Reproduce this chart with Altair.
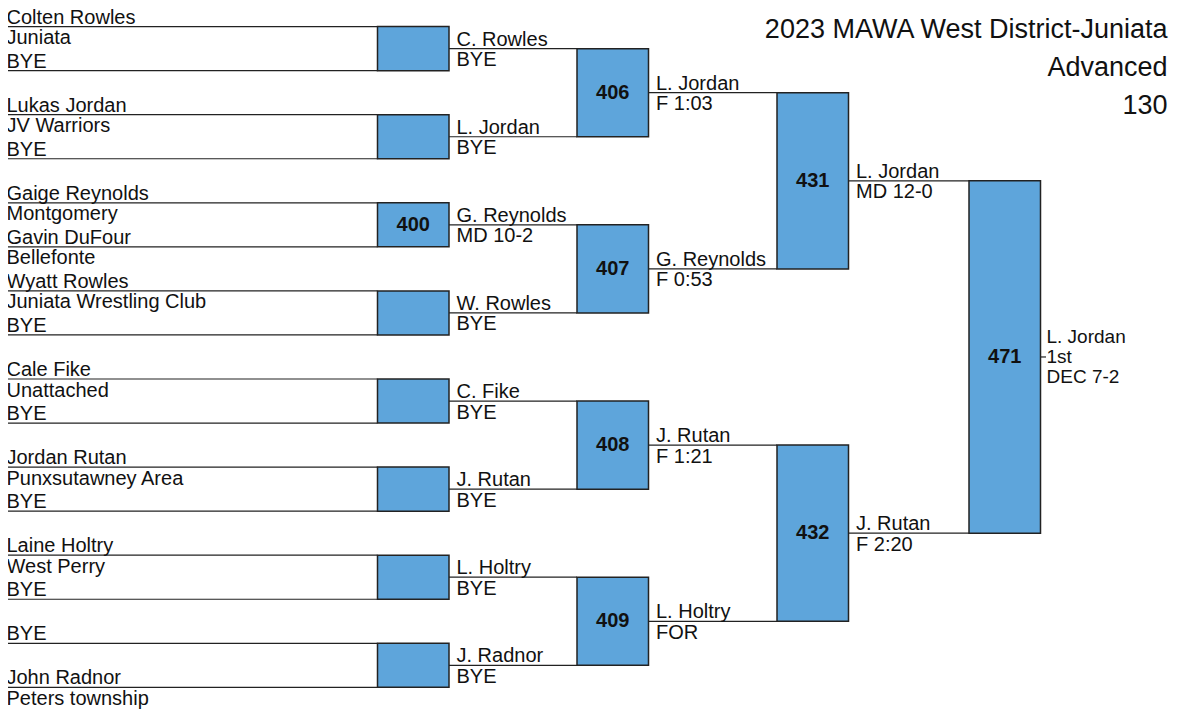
import altair as alt
import pandas as pd

# ---------------- data ----------------
title_lines = ["2023 MAWA West District-Juniata", "Advanced", "130"]

r1_names = ["Colten Rowles", "BYE", "Lukas Jordan", "BYE",
            "Gaige Reynolds", "Gavin DuFour", "Wyatt Rowles", "BYE",
            "Cale Fike", "BYE", "Jordan Rutan", "BYE",
            "Laine Holtry", "BYE", "BYE", "John Radnor"]
r1_teams = ["Juniata", "", "JV Warriors", "",
            "Montgomery", "Bellefonte", "Juniata Wrestling Club", "",
            "Unattached", "", "Punxsutawney Area", "",
            "West Perry", "", "", "Peters township"]
r1_bouts = ["", "", "400", "", "", "", "", ""]

r2_names = ["C. Rowles", "L. Jordan", "G. Reynolds", "W. Rowles",
            "C. Fike", "J. Rutan", "L. Holtry", "J. Radnor"]
r2_results = ["BYE", "BYE", "MD 10-2", "BYE", "BYE", "BYE", "BYE", "BYE"]
r2_bouts = ["406", "407", "408", "409"]

r3_names = ["L. Jordan", "G. Reynolds", "J. Rutan", "L. Holtry"]
r3_results = ["F 1:03", "F 0:53", "F 1:21", "FOR"]
r3_bouts = ["431", "432"]

r4_names = ["L. Jordan", "J. Rutan"]
r4_results = ["MD 12-0", "F 2:20"]
r4_bouts = ["471"]

final_lines = ["L. Jordan", "1st", "DEC 7-2"]

# ---------------- layout ----------------
FONT = "Liberation Sans"
W, H = 1168, 701
Y0, DY = 26.6, 44.05                # first-round line spacing
BOX_LEFT = [377.5, 577, 777, 969]   # bracket box left edges per round
BOX_W = 71.5
LINE_START0 = 6
BLUE = "#5EA5DB"

rounds_names = [r1_names, r2_names, r3_names, r4_names]
rounds_below = [r1_teams, r2_results, r3_results, r4_results]
rounds_bouts = [r1_bouts, r2_bouts, r3_bouts, r4_bouts]

line_rows, above_rows, below_rows, box_rows = [], [], [], []
pos = [Y0 + DY * k for k in range(len(r1_names))]
for r in range(4):
    start = LINE_START0 if r == 0 else BOX_LEFT[r - 1] + BOX_W
    end = BOX_LEFT[r]
    tx = start + (0.5 if r == 0 else 7.5)
    for i, y in enumerate(pos):
        line_rows.append({"x": start, "x2": end, "y": y})
        above_rows.append({"x": tx, "y": y, "t": rounds_names[r][i]})
        if rounds_below[r][i]:
            below_rows.append({"x": tx, "y": y, "t": rounds_below[r][i]})
    new_pos = []
    for j, b in enumerate(rounds_bouts[r]):
        y1, y2 = pos[2 * j], pos[2 * j + 1]
        box_rows.append({"x": BOX_LEFT[r], "x2": BOX_LEFT[r] + BOX_W,
                         "y": y1, "y2": y2, "yc": (y1 + y2) / 2,
                         "xc": BOX_LEFT[r] + BOX_W / 2, "t": b})
        new_pos.append((y1 + y2) / 2)
    pos = new_pos

final_y = pos[0]
final_x0 = BOX_LEFT[3] + BOX_W
line_rows.append({"x": final_x0, "x2": final_x0 + 5.5, "y": final_y})
final_rows = [{"x": final_x0 + 6, "y": final_y + 6.5 + (i - 1) * 20, "t": t}
              for i, t in enumerate(final_lines)]
title_rows = [{"x": 1167.5, "y": 38 + 38 * i, "t": t}
              for i, t in enumerate(title_lines)]

lines = pd.DataFrame(line_rows)
above = pd.DataFrame(above_rows)
below = pd.DataFrame(below_rows)
boxes = pd.DataFrame(box_rows)
finals = pd.DataFrame(final_rows)
titles = pd.DataFrame(title_rows)

xs = alt.Scale(domain=[8, 8 + W], nice=False, zero=False)
ys = alt.Scale(domain=[8, 8 + H], nice=False, zero=False, reverse=True)
X = lambda f: alt.X(f, type="quantitative", scale=xs, axis=None)
Y = lambda f: alt.Y(f, type="quantitative", scale=ys, axis=None)

rule_layer = alt.Chart(lines).mark_rule(color="#222", strokeWidth=1.2).encode(
    x=X("x"), x2="x2", y=Y("y"))
box_layer = alt.Chart(boxes).mark_rect(fill=BLUE, stroke="#222", strokeWidth=1.5).encode(
    x=X("x"), x2="x2", y=Y("y"), y2="y2")
bout_layer = alt.Chart(boxes).mark_text(font=FONT, fontSize=20, fontWeight="bold",
                                        align="center", baseline="middle", color="#111").encode(
    x=X("xc"), y=Y("yc"), text="t:N")
above_layer = alt.Chart(above).mark_text(font=FONT, fontSize=20, align="left",
                                         baseline="alphabetic", dy=-3, color="#111").encode(
    x=X("x"), y=Y("y"), text="t:N")
below_layer = alt.Chart(below).mark_text(font=FONT, fontSize=20, align="left",
                                         baseline="alphabetic", dy=17.5, color="#111").encode(
    x=X("x"), y=Y("y"), text="t:N")
final_layer = alt.Chart(finals).mark_text(font=FONT, fontSize=19, align="left",
                                          baseline="alphabetic", color="#111").encode(
    x=X("x"), y=Y("y"), text="t:N")
title_layer = alt.Chart(titles).mark_text(font=FONT, fontSize=27, align="right",
                                          baseline="alphabetic", color="#111").encode(
    x=X("x"), y=Y("y"), text="t:N")

chart = alt.layer(rule_layer, box_layer, bout_layer, above_layer, below_layer,
                  final_layer, title_layer).properties(
    width=W, height=H, padding=0, autosize=alt.AutoSizeParams(type="none")
).configure_view(stroke=None)

chart.save("out.html", embed_options={"renderer": "svg", "actions": False})
